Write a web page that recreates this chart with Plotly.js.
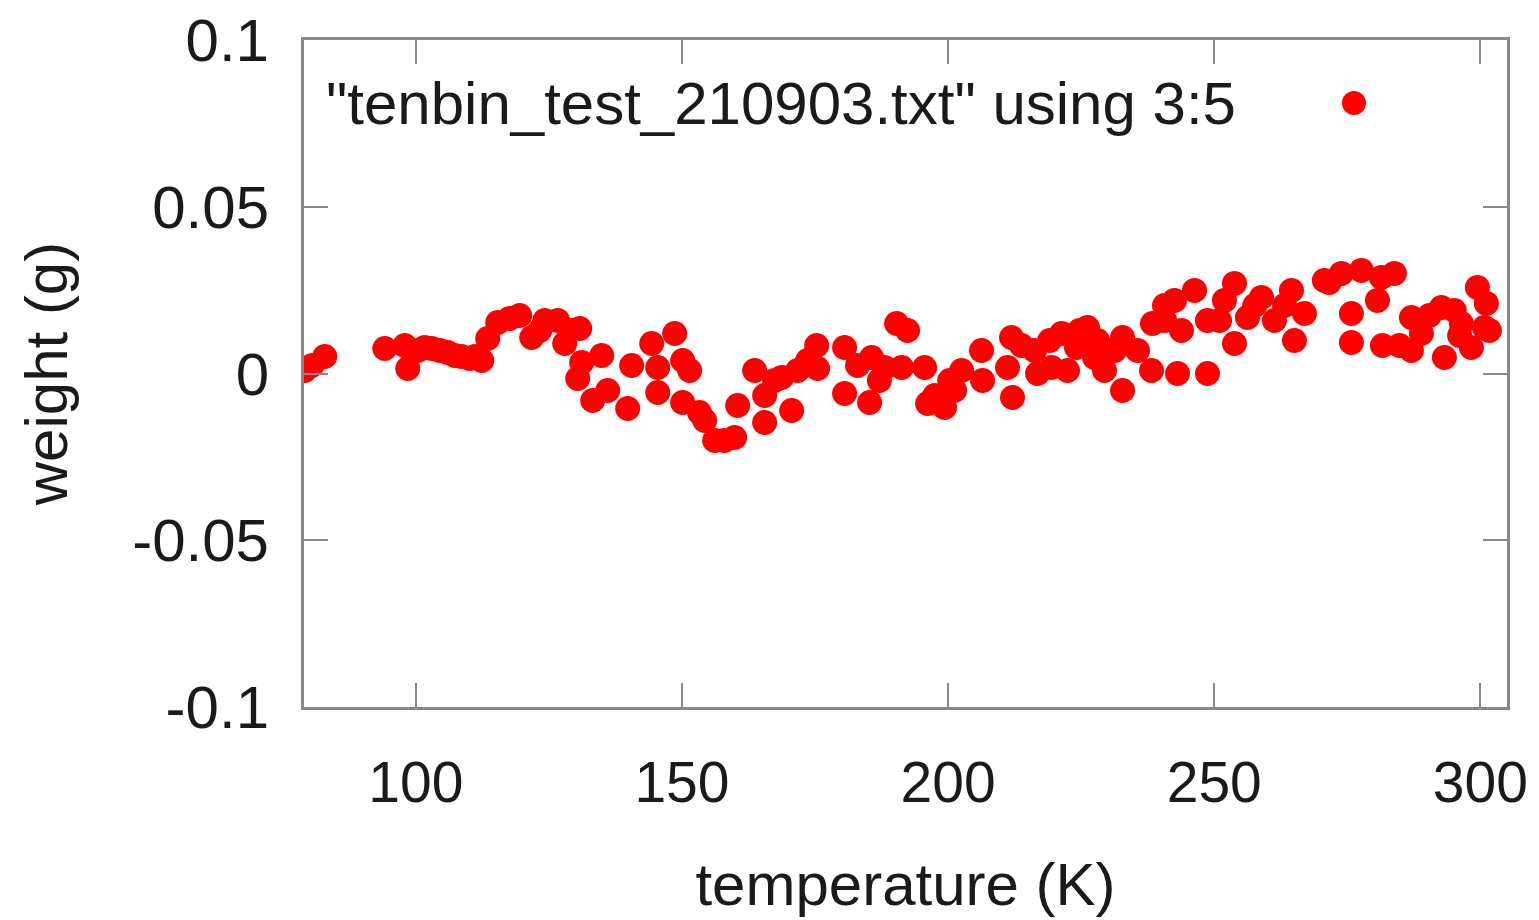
<!DOCTYPE html>
<html>
<head>
<meta charset="utf-8">
<script src="https://cdn.plot.ly/plotly-3.0.1.min.js"></script>
<style>html,body{margin:0;padding:0;background:#fff;}#chart{width:1539px;height:920px;}</style>
</head>
<body>
<div id="chart"></div>
<script>
const seriesName = '"tenbin_test_210903.txt" using 3:5';
const xTitle = 'temperature (K)';
const yTitle = 'weight (g)';
const xTicks = [100, 150, 200, 250, 300];
const yTicks = [-0.1, -0.05, 0, 0.05, 0.1];
const yTickText = ['-0.1', '-0.05', '0', '0.05', '0.1'];

const temperature = [
  79.15, 80.47, 82.91, 94.18, 97.93, 98.50, 100.4, 101.69, 103.0, 104.51, 106.0, 107.32, 108.6, 110.14, 111.1, 112.39, 113.52,
  115.40, 117.65, 119.53, 121.78, 123.3, 124.23, 126.67, 127.98, 128.9, 130.80, 131.17, 134.93, 130.42, 133.24,
  136.06, 139.81, 140.56, 144.32, 148.64, 145.45, 150.14, 151.46, 145.45, 150.14, 153.3, 154.27, 156.15, 158.0,
  159.91, 160.47, 163.66, 165.54, 165.54, 167.4, 170.61, 168.73, 171.74, 173.6, 175.31, 175.49, 180.56, 180.56,
  183.0, 185.63, 185.26, 187.1, 188.08, 190.33, 192.39, 191.27, 195.59, 196.15, 197.5, 199.34, 200.3, 201.22, 202.54, 206.29,
  206.48, 211.92, 212.11, 211.17, 213.8, 216.24, 216.81, 219.1, 219.44, 221.31, 222.44, 224.13, 224.7, 226.20, 227.51,
  228.08, 229.39, 231.3, 232.77, 232.77, 235.59, 238.22, 238.40, 240.66, 240.7, 243.10, 242.54, 243.85, 246.29,
  248.73, 248.73, 251.0, 251.92, 253.80, 253.80, 256.24, 257.6, 258.87, 261.31, 263.2, 264.51, 265.07, 266.95, 270.70,
  271.6, 273.90, 277.65, 275.77, 275.77, 281.41, 283.85, 280.66, 281.60, 284.8, 287.04, 287.04, 288.92, 290.42,
  292.68, 293.24, 295.1, 296.1, 296.43, 298.31, 299.44, 300.75, 301.13, 301.69
];
const weight = [
  0.0009, 0.0024, 0.0051, 0.0075, 0.0084, 0.0015, 0.0069, 0.0078, 0.0075, 0.0069, 0.0063, 0.0054, 0.0051, 0.0045, 0.0051, 0.0039, 0.0105,
  0.0153, 0.0165, 0.0174, 0.0108, 0.0129, 0.0159, 0.0159, 0.0090, 0.0129, 0.0135, 0.0033, 0.0054, -0.0015, -0.0081,
  -0.0051, -0.0105, 0.0024, 0.0090, 0.0120, 0.0018, 0.0039, 0.0009, -0.0057, -0.0087, -0.0117, -0.0141, -0.0201, -0.0201,
  -0.0192, -0.0096, 0.0009, -0.0066, -0.0147, -0.0021, -0.0111, -0.0012, 0.0009, 0.0039, 0.0084, 0.0015, 0.0078, -0.0060,
  0.0024, 0.0048, -0.0087, -0.0021, 0.0018, 0.0150, 0.0129, 0.0018, 0.0018, -0.0090, -0.0066, -0.0102, -0.0021, -0.0051, 0.0009, 0.0069,
  -0.0021, 0.0108, -0.0072, 0.0018, 0.0084, 0.0069, 0.0000, 0.0099, 0.0018, 0.0120, 0.0009, 0.0078, 0.0129, 0.0138, 0.0048,
  0.0099, 0.0009, 0.0069, 0.0108, -0.0051, 0.0069, 0.0009, 0.0150, 0.0204, 0.0159, 0.0000, 0.0219, 0.0129, 0.0249,
  0.0000, 0.0159, 0.0159, 0.0219, 0.0270, 0.0090, 0.0168, 0.0204, 0.0228, 0.0159, 0.0204, 0.0249, 0.0099, 0.0180, 0.0279,
  0.0273, 0.0300, 0.0309, 0.0180, 0.0093, 0.0288, 0.0300, 0.0219, 0.0084, 0.0084, 0.0168, 0.0069, 0.0120, 0.0174,
  0.0198, 0.0048, 0.0189, 0.0114, 0.0150, 0.0078, 0.0258, 0.0138, 0.0210, 0.0129
];

const fontFam = 'Liberation Sans, Arial, sans-serif';
const axisCommon = {
  showline: true, linecolor: '#888888', linewidth: 3, mirror: 'ticks',
  ticks: 'inside', ticklen: 24, tickwidth: 2, tickcolor: '#888888',
  showgrid: false, zeroline: false
};

const trace = {
  x: temperature, y: weight, type: 'scatter', mode: 'markers', name: seriesName,
  marker: {color: '#ff0000', size: 25, line: {width: 0}},
  showlegend: false
};

const layout = {
  width: 1539, height: 920,
  margin: {l: 304, r: 32, t: 40, b: 213},
  paper_bgcolor: '#ffffff', plot_bgcolor: '#ffffff',
  xaxis: Object.assign({}, axisCommon, {
    range: [79, 305], tickvals: xTicks, ticklabelstandoff: 24,
    tickfont: {family: fontFam, size: 57, color: '#1a1a1a'},
    title: {text: xTitle, font: {family: fontFam, size: 60, color: '#1a1a1a'}, standoff: 50}
  }),
  yaxis: Object.assign({}, axisCommon, {
    range: [-0.1, 0.1], tickvals: yTicks, ticktext: yTickText, ticklabelstandoff: 20,
    tickfont: {family: fontFam, size: 60, color: '#1a1a1a'},
    title: {text: yTitle, font: {family: fontFam, size: 60, color: '#1a1a1a'}, standoff: 46}
  }),
  annotations: [{
    xref: 'paper', yref: 'paper', x: 0.776, y: 0.9055, xanchor: 'right', yanchor: 'middle',
    text: seriesName, showarrow: false,
    font: {family: fontFam, size: 60, color: '#1a1a1a'}
  }],
  shapes: [{
    type: 'circle', xref: 'paper', yref: 'paper',
    x0: 0.8628, x1: 0.8828, y0: 0.8876, y1: 0.9235,
    fillcolor: '#ff0000', line: {width: 0}
  }]
};

Plotly.newPlot('chart', [trace], layout, {displayModeBar: false, staticPlot: true});
</script>
</body>
</html>
